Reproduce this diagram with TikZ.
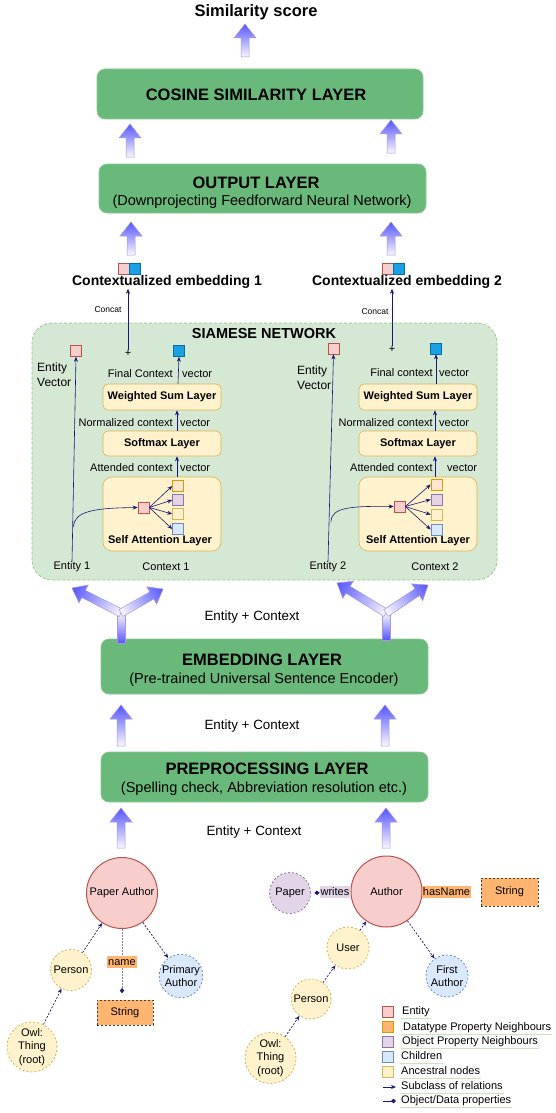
\documentclass[tikz,border=0pt]{standalone}
\usepackage{fontspec}
\setmainfont{Liberation Sans}
\usetikzlibrary{arrows.meta,calc,shapes.geometric}
\definecolor{layergreen}{RGB}{105,185,122}
\definecolor{layerborder}{RGB}{140,198,150}
\definecolor{siamfill}{HTML}{D5E8D4}
\definecolor{siamborder}{HTML}{8CC97A}
\definecolor{yfill}{HTML}{FFF2CC}
\definecolor{yborder}{HTML}{D6B656}
\definecolor{pfill}{HTML}{F8CECC}
\definecolor{pborder}{HTML}{B85450}
\definecolor{bfill}{HTML}{DAE8FC}
\definecolor{bborder}{HTML}{6C8EBF}
\definecolor{vfill}{HTML}{E1D5E7}
\definecolor{vborder}{HTML}{9673A6}
\definecolor{ofill}{HTML}{FFB570}
\definecolor{oborder}{HTML}{D79B00}
\definecolor{peach}{HTML}{FFE6CC}
\definecolor{cblue}{HTML}{1BA1E2}
\definecolor{cblueb}{HTML}{006EAF}
\definecolor{navy}{RGB}{25,25,115}
\definecolor{arrblue}{RGB}{85,85,255}
\definecolor{arrwhite}{RGB}{250,248,255}
\definecolor{arrborder}{RGB}{170,150,215}
\definecolor{legline}{HTML}{C8E6B8}
\newcommand\fsz[2]{\fontsize{#1}{#2}\selectfont}
\newcommand\uparr[3]{\path[blockarr] (#1-4,#2) -- (#1-4,#3+14) -- (#1-11,#3+14) -- (#1,#3) -- (#1+11,#3+14) -- (#1+4,#3+14) -- (#1+4,#2) -- cycle;}
\newcommand\brarr[4]{\begin{scope}[transform canvas={shift={(#1,#2)},rotate=#3}]
\path[brshade] (0,-4) -- (#4-13,-4) -- (#4-13,-10) -- (#4,0) -- (#4-13,10) -- (#4-13,4) -- (0,4) -- cycle;
\end{scope}}
\begin{document}
\begin{tikzpicture}[x=1pt,y=-1pt,
  every node/.style={inner sep=0pt, font=\fsz{11}{13}},
  layerbox/.style={draw=layerborder, fill=layergreen, rounded corners=8pt, line width=0.6pt},
  titletxt/.style={font=\bfseries\fsz{16.5}{19}},
  subtxt/.style={font=\fsz{14.5}{17}},
  ectxt/.style={font=\fsz{13.4}{16}},
  ylbox/.style={draw=yborder, fill=yfill, rounded corners=5pt, minimum width=118pt, line width=0.6pt},
  yltxt/.style={font=\bfseries\fsz{11}{13}},
  sq/.style={draw, minimum size=11pt, inner sep=0pt, line width=0.6pt},
  arr/.style={draw=navy, line width=0.6pt, -{Stealth[length=5pt,width=4pt]}},
  garr/.style={draw=navy, line width=0.7pt, dash pattern=on 2pt off 1.6pt, -{Stealth[length=5pt,width=4pt]}},
  parr/.style={draw=navy!55, line width=0.7pt, dash pattern=on 1.5pt off 1.5pt, -{Diamond[length=5pt,width=4.5pt,color=navy]}},
  blockarr/.style={top color=arrblue, bottom color=arrwhite, draw=arrborder, line width=0.5pt},
  brshade/.style={left color=arrwhite, right color=arrblue, draw=arrborder, line width=0.5pt},
  stemshade/.style={top color=arrwhite, bottom color=arrblue, draw=arrborder, line width=0.5pt},
  gcirc/.style={circle, inner sep=0pt, align=center, font=\fsz{11}{13.3}},
  entc/.style={gcirc, fill=pfill, draw=pborder, line width=1pt},
  ancc/.style={gcirc, fill=yfill, draw=yborder, line width=0.8pt, dash pattern=on 2pt off 2pt},
  chdc/.style={gcirc, fill=bfill, draw=bborder, line width=0.8pt, dash pattern=on 2pt off 2pt},
  objc/.style={gcirc, fill=vfill, draw=vborder, line width=0.8pt, dash pattern=on 2pt off 2pt},
  strbox/.style={fill=ofill, draw=black!75, line width=0.8pt, dash pattern=on 2pt off 2pt},
  legtxt/.style={anchor=west, inner sep=1pt, text height=8pt, text depth=2.5pt, font=\fsz{11}{13}},
  legl/.style={draw=legline, line width=0.8pt}
]
\useasboundingbox (0,0) rectangle (556,1113);

% ---------- top ----------
\node[font=\bfseries\fsz{16.5}{19}] (sim) at (256,12) {Similarity score};
\uparr{245}{57}{24}

\node[layerbox, minimum width=326pt, minimum height=50pt] (cos) at (260,94) {};
\node[titletxt] (costxt) at (256,95) {COSINE SIMILARITY LAYER};
\uparr{130}{157}{124}
\uparr{391}{153}{120}

\node[layerbox, minimum width=327pt, minimum height=49pt] (out) at (262.5,188.5) {};
\node[titletxt] (outt) at (256,183) {OUTPUT LAYER};
\node[subtxt] (outs) at (262,202) {(Downprojecting Feedforward Neural Network)};
\uparr{131}{255}{222}
\uparr{391}{255}{222}

% contextualized embeddings
\node[sq, fill=pfill, draw=pborder] (cp1) at (123.5,268.5) {};
\node[sq, fill=cblue, draw=cblueb] (cb1) at (134.5,268.5) {};
\node[font=\bfseries\fsz{14}{16}] (ce1) at (167,282) {Contextualized embedding 1};
\node[sq, fill=pfill, draw=pborder] (cp2) at (387.5,268.5) {};
\node[sq, fill=cblue, draw=cblueb] (cb2) at (398.5,268.5) {};
\node[font=\bfseries\fsz{14}{16}] (ce2) at (407,282) {Contextualized embedding 2};

% ---------- siamese network ----------
\node[draw=siamborder, fill=siamfill, rounded corners=20pt, line width=0.7pt, dash pattern=on 3pt off 2pt, minimum width=465pt, minimum height=257pt] (siam) at (264.5,451.5) {};
\node[font=\bfseries\fsz{14.5}{17}] (siamt) at (264,334) {SIAMESE NETWORK};

% left branch
\node[sq, fill=pfill, draw=pborder] (ev1) at (76,351) {};
\node[font=\fsz{11}{13}] (plus1) at (128,353) {+};
\node[sq, fill=cblue, draw=cblueb] (fc1) at (179,351) {};
\node[anchor=west, align=left, font=\fsz{12}{15}] (evt1) at (37,374.5) {Entity\\Vector};
\node[font=\fsz{8.5}{10}] (cc1) at (108,310) {Concat};
\node[anchor=east] (fctx1) at (173,374) {Final Context};
\node[anchor=west] (fvec1) at (182,374) {vector};
\node[ylbox, minimum height=26pt] (ws1) at (162,397) {};
\node[yltxt] at (162,397) {Weighted Sum Layer};
\node[anchor=east] (nctx1) at (173,423) {Normalized context};
\node[anchor=west] (nvec1) at (180,423) {vector};
\node[ylbox, minimum height=25pt] (sm1) at (162,443.5) {};
\node[yltxt] at (162,443.5) {Softmax Layer};
\node[anchor=east] (actx1) at (173,468) {Attended context};
\node[anchor=west] (avec1) at (180,468) {vector};
\node[ylbox, rounded corners=9pt, minimum height=74pt] (sa1) at (162,514) {};
\node[yltxt] (sat1) at (160,541) {Self Attention Layer};
\node[sq, fill=pfill, draw=pborder] (sp1) at (143.5,507.5) {};
\node[sq, fill=peach, draw=oborder] (c1a) at (178,486) {};
\node[sq, fill=vfill, draw=vborder] (c1b) at (178,500) {};
\node[sq, fill=yfill, draw=yborder] (c1c) at (178,514) {};
\node[sq, fill=bfill, draw=bborder] (c1d) at (178,529) {};
\node (ent1) at (72,567) {Entity 1};
\node (ctx1) at (166,567) {Context 1};

\draw[arr] (ent1.north) -- (ev1.south);
\coordinate (h1) at (73.6,527);
\draw[arr] (h1) .. controls (73.6,511) and (95,508) .. (sp1.west);
\foreach \c in {c1a,c1b,c1c,c1d} \draw[arr] (sp1.east) -- (\c.west);
\draw[arr] (sa1.north -| 177,0) -- (sm1.south -| 177,0);
\draw[arr] (sm1.north -| 177,0) -- (ws1.south -| 177,0);
\draw[arr] (ws1.north -| 178,0) -- (fc1.south);
\draw[arr] (plus1.north) -- (plus1.north |- ce1.south);

% right branch
\node[sq, fill=pfill, draw=pborder] (ev2) at (333.5,348.5) {};
\node[font=\fsz{11}{13}] (plus2) at (392,349) {+};
\node[sq, fill=cblue, draw=cblueb] (fc2) at (436,348.5) {};
\node[anchor=west, align=left, font=\fsz{12}{15}] (evt2) at (297,378) {Entity\\Vector};
\node[font=\fsz{8.5}{10}] (cc2) at (375,312) {Concat};
\node[anchor=east] (fctx2) at (433,373) {Final context};
\node[anchor=west] (fvec2) at (439,373) {vector};
\node[ylbox, minimum height=26pt] (ws2) at (418,397) {};
\node[yltxt] at (418,397) {Weighted Sum Layer};
\node[anchor=east] (nctx2) at (433,423) {Normalized context};
\node[anchor=west] (nvec2) at (439,423) {vector};
\node[ylbox, minimum height=25pt] (sm2) at (418,443.5) {};
\node[yltxt] at (418,443.5) {Softmax Layer};
\node[anchor=east] (actx2) at (433,468) {Attended context};
\node[anchor=west] (avec2) at (447,468) {vector};
\node[ylbox, rounded corners=9pt, minimum height=74pt] (sa2) at (418,514) {};
\node[yltxt] (sat2) at (418,541) {Self Attention Layer};
\node[sq, fill=pfill, draw=pborder] (sp2) at (399.5,506.5) {};
\node[sq, fill=peach, draw=oborder] (c2a) at (436.5,484.5) {};
\node[sq, fill=vfill, draw=vborder] (c2b) at (436.5,499.5) {};
\node[sq, fill=yfill, draw=yborder] (c2c) at (436.5,514.5) {};
\node[sq, fill=bfill, draw=bborder] (c2d) at (436.5,529.5) {};
\node (ent2) at (328,567) {Entity 2};
\node (ctx2) at (435,567) {Context 2};

\draw[arr] (ent2.north) -- (ev2.south);
\coordinate (h2) at (331,522);
\draw[arr] (h2) .. controls (331,507) and (352,506) .. (sp2.west);
\foreach \c in {c2a,c2b,c2c,c2d} \draw[arr] (sp2.east) -- (\c.west);
\draw[arr] (sa2.north -| 435,0) -- (sm2.south -| 435,0);
\draw[arr] (sm2.north -| 435,0) -- (ws2.south -| 435,0);
\draw[arr] (ws2.north -| 436,0) -- (fc2.south);
\draw[arr] (plus2.north) -- (plus2.north |- ce2.south);

% ---------- embedding ----------
\node[ectxt] (ec1) at (252,617) {Entity + Context};
\node[layerbox, minimum width=327pt, minimum height=55pt] (emb) at (264.5,666.5) {};
\node[titletxt] (embt) at (262,660) {EMBEDDING LAYER};
\node[subtxt] (embs) at (264,680) {(Pre-trained Universal Sentence Encoder)};

% branching arrows
\path[stemshade] (117,613) rectangle (125,643);
\brarr{121}{613}{153}{55}
\brarr{121}{613}{29.7}{48.4}
\path[stemshade] (382,613) rectangle (390,640);
\brarr{386}{613}{148.5}{57.5}
\brarr{386}{613}{33.7}{50.5}

\uparr{121}{746}{705}
\uparr{385}{746}{705}
\node[ectxt] (ec2) at (252,726) {Entity + Context};

\node[layerbox, minimum width=327pt, minimum height=50pt] (pre) at (264.5,777) {};
\node[titletxt] (pret) at (267,769) {PREPROCESSING LAYER};
\node[subtxt] (pres) at (264,789) {(Spelling check, Abbreviation resolution etc.)};

\uparr{121}{848}{808}
\uparr{386}{848}{808}
\node[ectxt] (ec3) at (254,832) {Entity + Context};

% ---------- left ontology graph ----------
\node[entc, minimum size=71pt] (pa) at (122,893) {Paper Author};
\node[ancc, minimum size=41pt] (per1) at (71,970) {Person};
\node[chdc, minimum size=42pt] (prim) at (181,976) {Primary\\Author};
\node[ancc, minimum size=50pt] (owl1) at (32,1047) {Owl:\\Thing\\(root)};
\node[strbox, minimum width=56pt, minimum height=25pt] (str1) at (125,1012.5) {String};
\draw[garr] (per1) -- (pa);
\draw[garr] (pa) -- (prim);
\draw[garr] (owl1) -- (per1);
\draw[parr, shorten >=6.5pt] (pa.south) -- (pa.south |- str1.north);
\node[fill=ofill, inner sep=1pt, text height=8pt, text depth=2pt] (nm) at (122,962) {name};

% ---------- right ontology graph ----------
\node[entc, minimum size=71pt] (au) at (386.5,891.5) {Author};
\node[objc, minimum size=41pt] (pap) at (290,893) {Paper};
\node[strbox, minimum width=57pt, minimum height=28pt] (str2) at (509.5,892) {String};
\node[ancc, minimum size=42pt] (usr) at (348,948) {User};
\node[chdc, minimum size=42pt] (fa) at (447,976) {First\\Author};
\node[ancc, minimum size=40pt] (per2) at (311,999) {Person};
\node[ancc, minimum size=51pt] (owl2) at (270.5,1058) {Owl:\\Thing\\(root)};
\draw[garr] (usr) -- (au);
\draw[garr] (au) -- (fa);
\draw[garr] (per2) -- (usr);
\draw[garr] (owl2) -- (per2);
\draw[parr, shorten >=3.5pt] (au.west) -- (pap.east);
\node[fill=vfill, inner sep=1pt, text height=8pt, text depth=2pt] (wr) at (335,892) {writes};
\node[fill=ofill, inner sep=1pt, text height=8pt, text depth=2pt] (hn) at (446.5,892) {hasName};

% ---------- legend ----------
\node[sq, fill=pfill, draw=pborder] (lg1) at (387.5,1012) {};
\node[legtxt] (lt1) at (401,1012) {Entity};
\node[sq, fill=ofill, draw=oborder] (lg2) at (387.5,1026.5) {};
\node[legtxt] (lt2) at (402,1028) {Datatype Property Neighbours};
\node[sq, fill=vfill, draw=vborder] (lg3) at (387.5,1042) {};
\node[legtxt] (lt3) at (401,1042) {Object Property Neighbours};
\node[sq, fill=bfill, draw=bborder] (lg4) at (387.5,1057) {};
\node[legtxt] (lt4) at (400,1057) {Children};
\node[sq, fill=yfill, draw=yborder] (lg5) at (387.5,1072) {};
\node[legtxt] (lt5) at (400,1072) {Ancestral nodes};
\coordinate (la1) at (383,1087);
\coordinate (la2) at (396,1087);
\node[legtxt] (lt6) at (400,1087) {Subclass of relations};
\coordinate (lb1) at (383,1101);
\coordinate (lb2) at (396,1101);
\node[legtxt] (lt7) at (400,1101) {Object/Data properties};
\draw[draw=navy, line width=0.7pt, -{Stealth[length=5pt,width=4pt]}] (la1) -- (la2);
\draw[draw=navy, line width=0.7pt, -{Diamond[length=5pt,width=4.5pt]}] (lb1) -- (lb2);
\foreach \t in {lt1,lt2,lt3,lt4,lt5,lt6,lt7} \draw[legl] (\t.south west) -- (\t.south east);
\end{tikzpicture}
\end{document}
